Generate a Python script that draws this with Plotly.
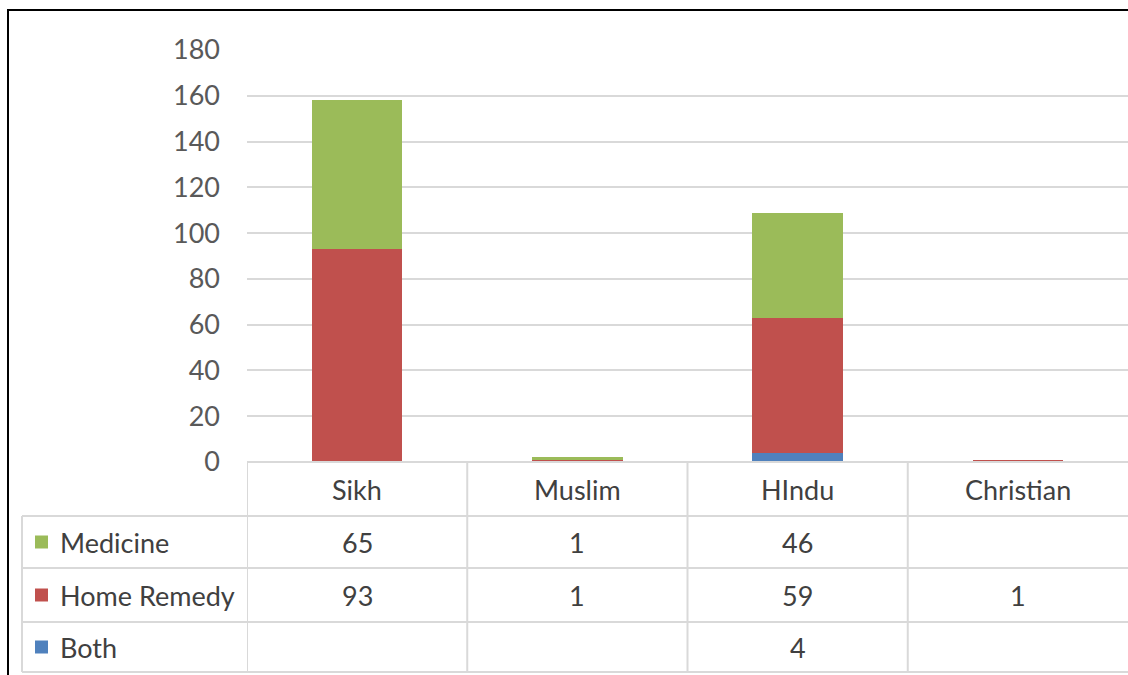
import plotly.graph_objects as go

categories = ["Sikh", "Muslim", "HIndu", "Christian"]
series_names = ["Medicine", "Home Remedy", "Both"]
medicine = [65, 1, 46, None]
home_remedy = [93, 1, 59, 1]
both = [None, None, 4, None]
colors = {"Medicine": "#9BBB59", "Home Remedy": "#C0504D", "Both": "#4F81BD"}
y_ticks = [0, 20, 40, 60, 80, 100, 120, 140, 160, 180]

W, H = 1128, 675
FONT = "Lato"
TXT = "#404040"
GRID = "#D9D9D9"
FS = 27


def px(x):
    return x / W


def py(y):
    return 1 - y / H


values = {"Medicine": medicine, "Home Remedy": home_remedy, "Both": both}

fig = go.Figure()
for name in ["Both", "Home Remedy", "Medicine"]:
    fig.add_trace(go.Bar(x=categories, y=values[name], name=name,
                         marker=dict(color=colors[name], line=dict(width=0)),
                         width=0.41, showlegend=False))

fig.update_layout(
    width=W, height=H, barmode="stack",
    margin=dict(l=0, r=0, t=0, b=0, pad=0, autoexpand=False),
    paper_bgcolor="white", plot_bgcolor="white",
    font=dict(family=FONT, color=TXT),
    xaxis=dict(domain=[px(247), 1], range=[-0.5, 3.5], showticklabels=False,
               showgrid=False, zeroline=False, showline=False, ticks="",
               automargin=False),
    yaxis=dict(domain=[py(462), py(50)], range=[0, 180], tickvals=y_ticks,
               showgrid=True, gridcolor=GRID, gridwidth=2, zeroline=False,
               showline=False, ticks="", ticklabelstandoff=26, automargin=False,
               tickfont=dict(family=FONT, size=FS, color="#595959")),
)

shapes = []
# horizontal table lines
shapes.append(dict(type="line", xref="paper", yref="paper", x0=px(247), x1=1,
                   y0=py(462), y1=py(462), line=dict(color=GRID, width=2)))
for yy in [516, 568, 622, 672]:
    shapes.append(dict(type="line", xref="paper", yref="paper", x0=px(22), x1=1,
                       y0=py(yy), y1=py(yy), line=dict(color=GRID, width=2)))
# vertical table lines
shapes.append(dict(type="line", xref="paper", yref="paper", x0=px(22), x1=px(22),
                   y0=py(516), y1=py(672), line=dict(color=GRID, width=2)))
for k in range(len(categories)):
    shapes.append(dict(type="line", xref="x", yref="paper", x0=k - 0.5, x1=k - 0.5,
                       y0=py(462), y1=py(672), line=dict(color=GRID, width=2)))
# outer frame
shapes.append(dict(type="line", xref="paper", yref="paper", x0=px(8), x1=px(8),
                   y0=py(9), y1=0, line=dict(color="black", width=2)))
shapes.append(dict(type="line", xref="paper", yref="paper", x0=px(8), x1=1,
                   y0=py(10), y1=py(10), line=dict(color="black", width=2)))

row_centers = {"Medicine": 542, "Home Remedy": 595, "Both": 647}
annotations = []
for i, c in enumerate(categories):
    annotations.append(dict(x=i, xref="x", y=py(489), yref="paper", text=c,
                            xanchor="center", yanchor="middle",
                            showarrow=False, font=dict(size=FS, color=TXT, family=FONT)))
for name in series_names:
    yc = row_centers[name]
    shapes.append(dict(type="rect", xref="paper", yref="paper", x0=px(35), x1=px(48),
                       y0=py(yc + 6.5), y1=py(yc - 6.5),
                       fillcolor=colors[name], line=dict(width=0)))
    annotations.append(dict(x=px(58), xref="paper", y=py(yc), yref="paper", text=name,
                            xanchor="left", yanchor="middle", showarrow=False,
                            font=dict(size=FS, color=TXT, family=FONT)))
    for i, v in enumerate(values[name]):
        if v is not None:
            annotations.append(dict(x=i, xref="x", y=py(yc), yref="paper", text=str(v),
                                    xanchor="center", yanchor="middle",
                                    showarrow=False,
                                    font=dict(size=FS, color=TXT, family=FONT)))

fig.update_layout(shapes=shapes, annotations=annotations)
fig.write_html("out.html")
